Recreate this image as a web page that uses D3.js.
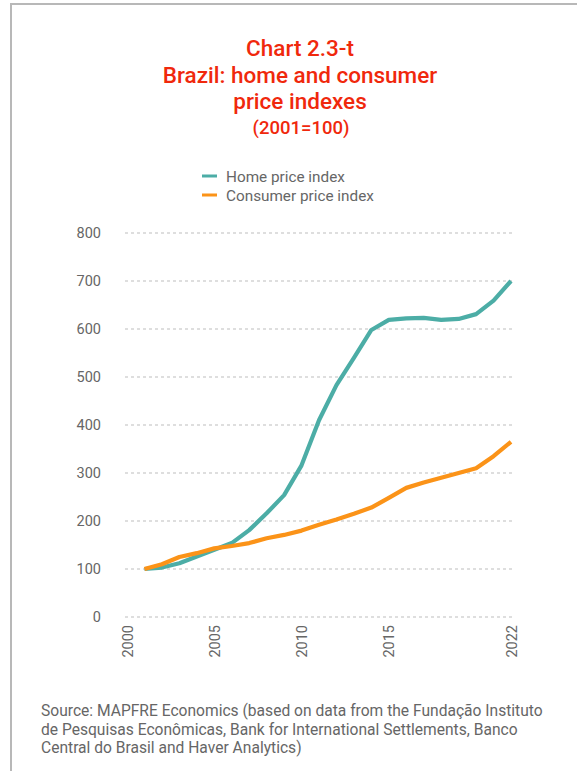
<!DOCTYPE html>
<html><head><meta charset="utf-8">
<script src="https://cdn.jsdelivr.net/npm/d3@7"></script>
<style>
html,body{margin:0;padding:0;background:#fff;}
svg{display:block;font-family:Roboto, "Open Sans", sans-serif;}
</style></head>
<body>
<svg id="chart" width="577" height="771"></svg>
<script>
const years = [2001,2002,2003,2004,2005,2006,2007,2008,2009,2010,2011,2012,2013,2014,2015,2016,2017,2018,2019,2020,2021,2022];
const homePrice = [100,103,112,126,140,154,181,216,254,316,410,483,540,598,619,622,623,619,621,631,659,700];
const consumerPrice = [100,110,125,133,143,148,154,164,171,180,192,203,215,228,248,269,280,290,300,310,335,365];
const yTicks = [0,100,200,300,400,500,600,700,800];
const xTicks = [2000,2005,2010,2015,2022];
const seriesNames = ["Home price index","Consumer price index"];
const colors = ["#4cada6","#fb9318"];
const titleLines = ["Chart 2.3-t","Brazil: home and consumer","price indexes"];
const subtitle = "(2001=100)";
const sourceLines = ["Source: MAPFRE Economics (based on data from the Fundação Instituto","de Pesquisas Econômicas, Bank for International Settlements, Banco","Central do Brasil and Haver Analytics)"];

const svg = d3.select("#chart");
// frame
svg.append("line").attr("x1",11).attr("x2",577).attr("y1",4).attr("y2",4).attr("stroke","#b8b8b8").attr("stroke-width",2);
svg.append("line").attr("x1",11).attr("x2",11).attr("y1",3).attr("y2",771).attr("stroke","#b8b8b8").attr("stroke-width",2);

// title
const tc = "#f0280c";
titleLines.forEach((t,i)=>{
  svg.append("text").attr("x",300).attr("y",56+i*26.5).attr("text-anchor","middle")
    .attr("fill",tc).attr("font-size",22.5).attr("font-weight",500).text(t);
});
svg.append("text").attr("x",301).attr("y",134).attr("text-anchor","middle")
  .attr("fill",tc).attr("font-size",18.5).attr("font-weight",500).text(subtitle);

// legend
seriesNames.forEach((n,i)=>{
  const y = 176 + i*19;
  svg.append("line").attr("x1",202).attr("x2",217).attr("y1",y).attr("y2",y).attr("stroke",colors[i]).attr("stroke-width",3);
  svg.append("text").attr("x",226).attr("y",y+5.5).attr("fill","#666").attr("font-size",15.3).text(n);
});

const x = d3.scaleLinear().domain([2000,2022]).range([127,511]);
const y = d3.scaleLinear().domain([0,800]).range([617,233]);

// grid
svg.append("g").selectAll("line").data(yTicks).join("line")
  .attr("x1",125).attr("x2",513).attr("y1",d=>y(d)).attr("y2",d=>y(d))
  .attr("stroke","#bdbdbd").attr("stroke-width",1).attr("stroke-dasharray","3,3");

// y axis labels
const yAxis = d3.axisLeft(y).tickValues(yTicks).tickSize(0).tickPadding(0);
const gy = svg.append("g").attr("transform","translate(101,0)").call(yAxis);
gy.select(".domain").remove();
gy.selectAll("text").attr("fill","#666").attr("font-size",14.5).attr("font-family","Roboto, 'Open Sans', sans-serif");

// x axis labels
const xAxis = d3.axisBottom(x).tickValues(xTicks).tickFormat(d3.format("d")).tickSize(0).tickPadding(0);
const gx = svg.append("g").attr("transform","translate(0,625)").call(xAxis);
gx.select(".domain").remove();
gx.selectAll("text").attr("fill","#666").attr("font-size",14.5).attr("font-family","Roboto, 'Open Sans', sans-serif")
  .attr("transform","rotate(-90)").attr("text-anchor","end").attr("dy","0.35em").attr("x",0).attr("y",0);

// lines
const line = d3.line().x((d,i)=>x(years[i])).y(d=>y(d)).curve(d3.curveLinear);
[homePrice, consumerPrice].forEach((s,i)=>{
  svg.append("path").datum(s).attr("d",line).attr("fill","none")
    .attr("stroke",colors[i]).attr("stroke-width",4.2).attr("stroke-linejoin","round");
});

// source
sourceLines.forEach((t,i)=>{
  svg.append("text").attr("x",41).attr("y",716+i*18.5).attr("fill","#666").attr("font-size",15.6).text(t);
});
</script>
</body></html>
